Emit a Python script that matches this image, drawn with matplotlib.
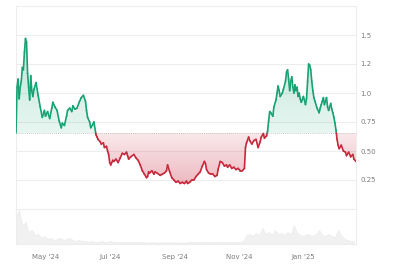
import numpy as np
import pandas as pd
import matplotlib
matplotlib.use("Agg")
import matplotlib.pyplot as plt
import matplotlib.dates as mdates
from matplotlib.path import Path

start_date = "2024-04-03"
day_offsets = [0, 1, 2, 3, 4, 5, 6, 7, 8, 9, 10, 11, 12, 13, 14, 15, 16, 17, 19, 21,
               23, 25, 27, 28, 30, 32, 34, 35, 37, 39, 41, 43, 44, 46, 48, 49, 51, 53, 54, 56,
               58, 60, 62, 64, 66, 67, 68, 70, 71, 73, 74, 76, 77, 78, 80, 81, 83, 84, 86, 87,
               88, 89, 90, 92, 93, 95, 97, 99, 101, 103, 105, 106, 107, 109, 112, 114, 116, 118, 120, 122,
               124, 125, 126, 127, 129, 131, 132, 134, 137, 139, 141, 143, 144, 146, 148, 150, 152, 154, 156, 158,
               160, 162, 163, 165, 167, 169, 171, 173, 175, 177, 179, 180, 181, 183, 185, 187, 189, 191, 192, 194,
               196, 198, 200, 201, 203, 205, 207, 209, 211, 213, 215, 217, 218, 219, 221, 222, 224, 226, 228, 230,
               232, 233, 235, 236, 238, 239, 240, 241, 242, 244, 245, 247, 248, 249, 250, 251, 253, 254, 256, 257,
               258, 259, 260, 261, 262, 263, 264, 265, 266, 267, 268, 269, 270, 271, 273, 274, 275, 276, 277, 278,
               279, 280, 281, 282, 283, 284, 286, 288, 289, 290, 291, 292, 293, 294, 295, 296, 297, 299, 300, 301,
               302, 303, 304, 305, 306, 307, 309, 311, 313, 314, 316, 318, 320, 321, 323]
prices = [0.655, 1.05, 1.12, 0.95, 1.05, 1.10, 1.22, 1.20, 1.35, 1.47, 1.44, 1.17, 1.05, 0.94, 1.15, 1.02, 0.97, 1.03, 1.09, 0.98,
          0.88, 0.79, 0.85, 0.80, 0.84, 0.78, 0.87, 0.92, 0.88, 0.85, 0.76, 0.70, 0.74, 0.72, 0.80, 0.85, 0.87, 0.84, 0.89, 0.86,
          0.87, 0.92, 0.96, 0.98, 0.93, 0.85, 0.79, 0.75, 0.70, 0.73, 0.75, 0.64, 0.62, 0.60, 0.58, 0.56, 0.57, 0.53, 0.54, 0.50,
          0.47, 0.40, 0.38, 0.42, 0.41, 0.43, 0.40, 0.44, 0.48, 0.47, 0.49, 0.46, 0.43, 0.45, 0.47, 0.44, 0.42, 0.38, 0.33, 0.30,
          0.27, 0.28, 0.32, 0.31, 0.33, 0.30, 0.32, 0.31, 0.29, 0.30, 0.31, 0.33, 0.38, 0.32, 0.27, 0.25, 0.23, 0.24, 0.22, 0.23,
          0.22, 0.24, 0.22, 0.23, 0.25, 0.25, 0.28, 0.30, 0.32, 0.37, 0.41, 0.39, 0.34, 0.31, 0.30, 0.30, 0.28, 0.29, 0.34, 0.41,
          0.40, 0.37, 0.38, 0.36, 0.38, 0.35, 0.36, 0.34, 0.35, 0.33, 0.33, 0.35, 0.53, 0.57, 0.62, 0.59, 0.56, 0.59, 0.60, 0.53,
          0.58, 0.62, 0.65, 0.61, 0.63, 0.67, 0.76, 0.84, 0.83, 0.80, 0.88, 0.94, 1.00, 1.06, 1.02, 0.97, 1.00, 1.03, 1.10, 1.18,
          1.20, 1.12, 1.02, 1.10, 1.14, 1.05, 1.00, 1.07, 1.02, 1.05, 0.97, 1.00, 0.95, 0.92, 0.97, 0.94, 0.90, 0.95, 1.10, 1.25,
          1.24, 1.20, 1.10, 1.02, 0.96, 0.93, 0.87, 0.83, 0.87, 0.90, 0.93, 0.96, 0.90, 0.93, 0.96, 0.88, 0.85, 0.91, 0.86, 0.83,
          0.79, 0.74, 0.68, 0.60, 0.55, 0.52, 0.55, 0.50, 0.49, 0.46, 0.49, 0.45, 0.47, 0.43, 0.41]

vol_step_days = 3
volumes = [28, 34, 18, 22, 12, 14, 9, 10, 6, 8, 5, 6, 4, 5, 6, 4, 5, 6, 4, 3,
           4, 3, 3, 2, 3, 2, 2, 3, 2, 2, 3, 2, 2, 2, 2, 2, 1.5, 2, 1.5, 2,
           2, 1.5, 1.5, 2, 1.5, 1.5, 1.5, 1.5, 2, 1.5, 1.5, 1.5, 1.5, 1.5, 1.5, 2, 1.5, 2, 2, 2.5,
           2, 2, 2, 1.5, 2.5, 2, 2, 2, 2, 2, 2, 2, 3, 9, 10, 8, 11, 9, 16, 10,
           12, 9, 14, 10, 11, 9, 12, 10, 19, 11, 9, 8, 10, 9, 8, 10, 14, 9, 8, 10,
           8, 7, 14, 9, 5, 4, 3, 3]

ytick_vals = [0.25, 0.5, 0.75, 1.0, 1.25, 1.5]
ytick_labels = ["0.25", "0.50", "0.75", "1.0", "1.2", "1.5"]
xtick_dates = ["2024-05-01", "2024-07-01", "2024-09-01", "2024-11-01", "2025-01-01"]
xtick_labels = ["May '24", "Jul '24", "Sep '24", "Nov '24", "Jan '25"]

GREEN = "#17a272"
RED = "#c8283c"
GRID = "#ededed"
TXT = "#7d7d7d"

t0 = pd.Timestamp(start_date)
dates = [t0 + pd.Timedelta(days=d) for d in day_offsets]
x = mdates.date2num(dates)
y = np.array(prices)
base = prices[0]
vdates = [t0 + pd.Timedelta(days=vol_step_days * i) for i in range(len(volumes))]
vx = mdates.date2num(vdates)

fig = plt.figure(figsize=(4.0, 2.66), dpi=100)
L, W = 16 / 400, 340 / 400
ax = fig.add_axes([L, (266 - 209) / 266, W, 203 / 266])
axv = fig.add_axes([L, (266 - 244) / 266, W, 35 / 266])

xmin, xmax = x[0], x[-1]
ymin, ymax = 0.0, 1.75

for a in (ax, axv):
    a.set_xlim(xmin, xmax)
    for s in a.spines.values():
        s.set_color(GRID)
        s.set_linewidth(0.8)
    a.tick_params(length=0)
ax.set_ylim(ymin, ymax)
ax.spines['bottom'].set_visible(False)

for g in np.arange(0.25, 1.75, 0.25):
    ax.axhline(g, color=GRID, lw=0.8, zorder=0)


def grad_fill(where, c, a_base, a_far, y_far):
    poly = ax.fill_between(x, y, base, where=where, interpolate=True,
                           facecolor='none', edgecolor='none')
    paths = poly.get_paths()
    if not paths:
        return
    cp = Path.make_compound_path(*paths)
    rgb = matplotlib.colors.to_rgb(c)
    n = 256
    img = np.zeros((n, 1, 4))
    img[:, 0, :3] = rgb
    img[:, 0, 3] = np.linspace(a_base, a_far, n)
    lo, hi = (base, y_far) if y_far > base else (y_far, base)
    if y_far < base:
        img = img[::-1]
    im = ax.imshow(img, extent=[xmin, xmax, lo, hi], origin='lower',
                   aspect='auto', interpolation='bilinear', zorder=1)
    im.set_clip_path(cp, ax.transData)


grad_fill(y >= base, GREEN, 0.10, 0.28, 1.5)
grad_fill(y <= base, RED, 0.10, 0.32, 0.22)
ax.set_xlim(xmin, xmax)
ax.set_ylim(ymin, ymax)

ax.axhline(base, color="#b8b8b8", lw=0.6, ls=(0, (1, 1.5)), zorder=2)

for i in range(len(x) - 1):
    y0, y1 = y[i], y[i + 1]
    x0, x1 = x[i], x[i + 1]
    if (y0 - base) * (y1 - base) < 0:
        xc = x0 + (base - y0) / (y1 - y0) * (x1 - x0)
        ax.plot([x0, xc], [y0, base], color=GREEN if y0 > base else RED, lw=1.2,
                solid_capstyle='round', zorder=3)
        ax.plot([xc, x1], [base, y1], color=GREEN if y1 > base else RED, lw=1.2,
                solid_capstyle='round', zorder=3)
    else:
        mid = (y0 + y1) / 2
        ax.plot([x0, x1], [y0, y1], color=GREEN if mid >= base else RED, lw=1.2,
                solid_capstyle='round', zorder=3)

ax.yaxis.tick_right()
ax.set_yticks(ytick_vals)
ax.set_yticklabels(ytick_labels)
ax.tick_params(axis='y', labelsize=5, labelcolor=TXT, pad=3)
for lab in ax.get_yticklabels():
    lab.set_horizontalalignment('left')
ax.set_xticks([])

axv.fill_between(vx, volumes, 0, facecolor="#f1f1f1", lw=0.4, edgecolor="#e9e9e9")
axv.set_ylim(0, 35)
axv.set_yticks([])
axv.set_xticks(mdates.date2num(pd.to_datetime(xtick_dates)))
axv.set_xticklabels(xtick_labels)
axv.tick_params(axis='x', labelsize=5, labelcolor=TXT, pad=7)

fig.savefig("out.png", dpi=100, facecolor="white")
